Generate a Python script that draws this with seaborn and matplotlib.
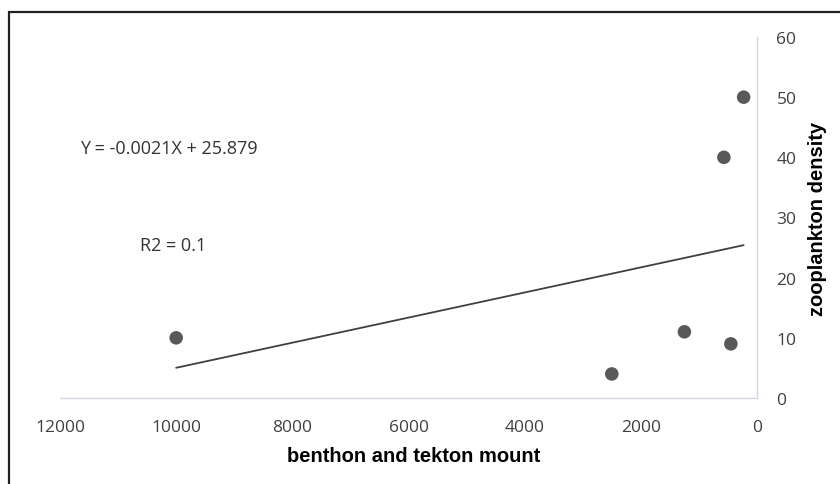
import matplotlib
matplotlib.use("Agg")
import matplotlib.pyplot as plt
import seaborn as sns
import pandas as pd
from matplotlib.patches import Rectangle

# Data
benthon_tekton = [10000, 2500, 1250, 450, 570, 230]
zooplankton = [10, 4, 11, 9, 40, 50]
x_ticks = [12000, 10000, 8000, 6000, 4000, 2000, 0]
y_ticks = [0, 10, 20, 30, 40, 50, 60]
equation_text = "Y = -0.0021X + 25.879"
r2_text = "R2 = 0.1"

df = pd.DataFrame({"x": benthon_tekton, "y": zooplankton})

sns.set_theme(style="white")
plt.rcParams["font.family"] = ["Open Sans", "DejaVu Sans"]

fig = plt.figure(figsize=(8.4, 4.85), dpi=100)
ax = fig.add_axes([60/840, 1-399/485, (757-60)/840, (399-38)/485])

sns.regplot(data=df, x="x", y="y", ax=ax, ci=None, truncate=True,
            scatter_kws=dict(s=95, color="#595959", edgecolor="none", alpha=1),
            line_kws=dict(color="#404040", lw=1.3))

ax.set_xlim(12000, 0)
ax.set_ylim(0, 60)
ax.set_xticks(x_ticks)
ax.set_yticks(y_ticks)
ax.set_xticklabels([str(v) for v in x_ticks])
ax.set_yticklabels([str(v) for v in y_ticks])
ax.yaxis.tick_right()
ax.yaxis.set_label_position("right")
ax.tick_params(axis="both", length=0, labelsize=12.5, labelcolor="#404040")
ax.tick_params(axis="x", pad=15)
ax.tick_params(axis="y", pad=14)

for s in ["top", "left"]:
    ax.spines[s].set_visible(False)
for s in ["bottom", "right"]:
    ax.spines[s].set_visible(True)
    ax.spines[s].set_color("#D0D7E2")
    ax.spines[s].set_linewidth(1.0)

ax.set_xlabel("benthon and tekton mount", fontsize=14.5, fontweight="bold",
              family=["Liberation Sans", "DejaVu Sans"], color="black")
ax.set_ylabel("zooplankton density", fontsize=14.5, fontweight="bold",
              family=["Liberation Sans", "DejaVu Sans"], color="black")
ax.xaxis.set_label_coords((414-60)/697, -(457-399)/361)
ax.yaxis.set_label_coords((818-60)/697, 0.5)
ax.yaxis.label.set_va("center")
ax.xaxis.label.set_va("center")

fig.text(80/840, 1-149/485, equation_text, fontsize=13, color="#333333",
         va="center", ha="left")
fig.text(140/840, 1-246/485, r2_text, fontsize=13, color="#333333",
         va="center", ha="left")

fig.patches.append(Rectangle((9/840, -0.1), 1.2, (1-13/485)+0.1,
                             transform=fig.transFigure, fill=False,
                             edgecolor="#222222", lw=1.6))

fig.savefig("out.png", dpi=100, facecolor="white")
